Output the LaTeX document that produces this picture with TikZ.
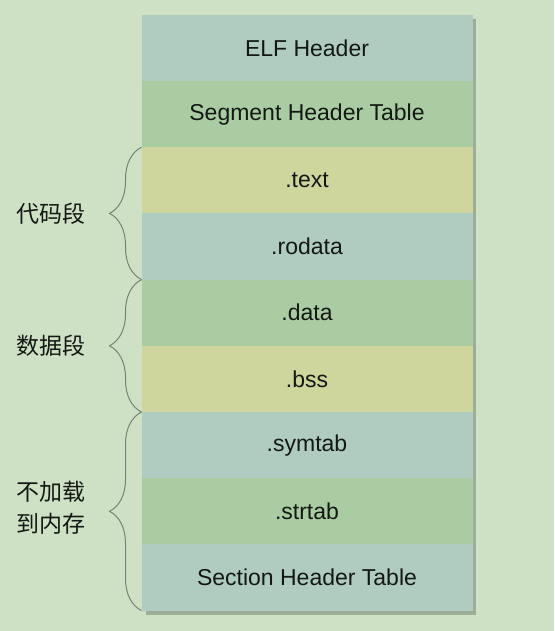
\documentclass[tikz,border=0pt]{standalone}
\usepackage{fontspec}
\setmainfont{Liberation Sans}
\newfontfamily\cjk{Noto Sans CJK SC}
\usetikzlibrary{positioning, calc, decorations.pathreplacing}

\definecolor{bgc}{RGB}{207,225,197}
\definecolor{bluec}{RGB}{176,204,192}
\definecolor{greenc}{RGB}{170,204,163}
\definecolor{yellowc}{RGB}{206,213,157}
\definecolor{shdc}{RGB}{157,174,152}
\definecolor{brcc}{RGB}{116,132,116}
\definecolor{txtc}{RGB}{20,24,20}

\begin{document}
\begin{tikzpicture}[x=1pt, y=1pt,
    sec/.style={minimum width=331pt, minimum height=66.2pt, inner sep=0pt, outer sep=0pt,
      font=\fontsize{23}{28}\selectfont, text=txtc},
    brc/.style={draw=brcc, line width=1pt, decorate, decoration={brace, amplitude=32pt}},
    lbl/.style={anchor=east, xshift=-52pt, font=\cjk\fontsize{23}{32}\selectfont,
      align=center, text=txtc}]
  \useasboundingbox (0,0) rectangle (554,-631);
  \fill[bgc] (0,0) rectangle (554,-631);
  \fill[shdc] (146,-19) rectangle (476,-615);

  \node[sec, fill=bluec] (elf) at (307,-47.9) {ELF Header};
  \node[sec, fill=greenc, below=0pt of elf] (seg) {Segment Header Table};
  \node[sec, fill=yellowc, below=0pt of seg] (text) {.text};
  \node[sec, fill=bluec, below=0pt of text] (rodata) {.rodata};
  \node[sec, fill=greenc, below=0pt of rodata] (data) {.data};
  \node[sec, fill=yellowc, below=0pt of data] (bss) {.bss};
  \node[sec, fill=bluec, below=0pt of bss] (symtab) {.symtab};
  \node[sec, fill=greenc, below=0pt of symtab] (strtab) {.strtab};
  \node[sec, fill=bluec, below=0pt of strtab] (sht) {Section Header Table};

  \draw[brc] (rodata.south west) -- node[lbl] (lbcode) {代码段} (text.north west);
  \draw[brc] (bss.south west) -- node[lbl] (lbdata) {数据段} (data.north west);
  \draw[brc] (sht.south west) -- node[lbl, yshift=4pt] (lbnoload) {不加载\\到内存} (symtab.north west);
\end{tikzpicture}
\end{document}
